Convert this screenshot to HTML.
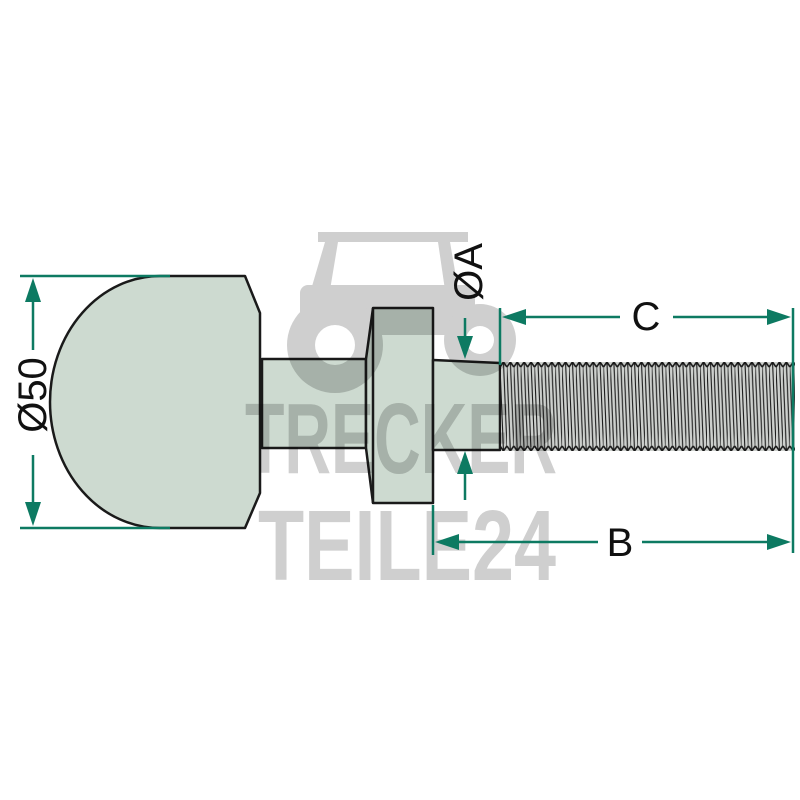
<!DOCTYPE html>
<html><head><meta charset="utf-8"><style>html,body{margin:0;padding:0;background:#fff}svg{display:block}</style></head>
<body>
<svg width="800" height="800" viewBox="0 0 800 800" xmlns="http://www.w3.org/2000/svg">
<defs>
  <pattern id="th" patternUnits="userSpaceOnUse" x="500" y="362" width="6.9" height="90">
    <rect x="0" y="0" width="6.9" height="90" fill="#cdd0cd"/>
    <path d="M0 5 L3.45 0 L6.9 5" fill="none" stroke="#1a1a1a" stroke-width="1.6"/>
    <path d="M0 84 L3.45 89 L6.9 84" fill="none" stroke="#1a1a1a" stroke-width="1.6"/>
    <path d="M0 5 L3.45 89 M3.45 0 L6.9 84" fill="none" stroke="#1a1a1a" stroke-width="1.1"/>
  </pattern>
</defs>
<!-- watermark -->
<g fill="#cfcfcf">
  <rect x="318" y="232" width="150" height="10"/>
  <path d="M325 242 L308 300 L460 300 L450 242 L438 242 L445 290 L330 290 L338 242Z"/>
  <rect x="300" y="285" width="175" height="50" rx="8"/>
  <circle cx="335" cy="345" r="48"/>
  <circle cx="480" cy="340" r="36"/>
  <text x="245" y="473" font-family="Liberation Sans, sans-serif" font-weight="bold" font-size="100" textLength="312" lengthAdjust="spacingAndGlyphs">TRECKER</text>
  <text x="258" y="580" font-family="Liberation Sans, sans-serif" font-weight="bold" font-size="100" textLength="298" lengthAdjust="spacingAndGlyphs">TEILE24</text>
</g>
<circle cx="335" cy="345" r="20" fill="#fff"/>
<circle cx="480" cy="340" r="14" fill="#fff"/>
<g style="mix-blend-mode:multiply" stroke="#1a1a1a" stroke-width="2.5" stroke-linejoin="round">
  <path d="M160 276 A110 126 0 0 0 160 528 L245 528 L260 493 L260 313 L245 276Z" fill="#cddad0"/>
  <rect x="262" y="359" width="104" height="89" fill="#cddad0"/>
  <path d="M366 359 L373 308 L433 308 L433 503 L373 503 L366 448Z" fill="#cddad0"/>
  <line x1="373" y1="308" x2="373" y2="503"/>
  <path d="M433 360 L500 363 L500 450 L433 450Z" fill="#cddad0"/>
  <rect x="500" y="362" width="295" height="89" fill="url(#th)" stroke="none"/>
  <line x1="500" y1="362" x2="500" y2="451" stroke-width="2"/>
</g>
<g stroke="#0d7a62" stroke-width="2.5" fill="#0d7a62">
  <line x1="20" y1="276" x2="170" y2="276"/><line x1="20" y1="528" x2="170" y2="528"/>
  <line x1="33" y1="290" x2="33" y2="350"/><line x1="33" y1="455" x2="33" y2="515"/>
  <path d="M33 278 L25 302 L41 302Z" stroke="none"/><path d="M33 526 L25 502 L41 502Z" stroke="none"/>
  <line x1="500" y1="308" x2="500" y2="365"/>
  <line x1="793" y1="308" x2="793" y2="553"/>
  <line x1="433" y1="505" x2="433" y2="555"/>
  <line x1="515" y1="317" x2="620" y2="317"/><line x1="673" y1="317" x2="780" y2="317"/>
  <path d="M502 317 L526 309 L526 325Z" stroke="none"/><path d="M791 317 L767 309 L767 325Z" stroke="none"/>
  <line x1="445" y1="542" x2="598" y2="542"/><line x1="642" y1="542" x2="780" y2="542"/>
  <path d="M435 542 L459 534 L459 550Z" stroke="none"/><path d="M791 542 L767 534 L767 550Z" stroke="none"/>
  <line x1="465" y1="318" x2="465" y2="345"/><path d="M465 359 L457 336 L473 336Z" stroke="none"/>
  <line x1="465" y1="470" x2="465" y2="500"/><path d="M465 451 L457 474 L473 474Z" stroke="none"/>
</g>
<g font-family="Liberation Sans, sans-serif" font-size="40" fill="#111">
  <text x="646" y="330" text-anchor="middle">C</text>
  <text x="620" y="556" text-anchor="middle">B</text>
  <text transform="translate(46,395) rotate(-90)" text-anchor="middle">Ø50</text>
  <text transform="translate(482,272) rotate(-90)" text-anchor="middle">ØA</text>
</g>
</svg>
</body></html>
